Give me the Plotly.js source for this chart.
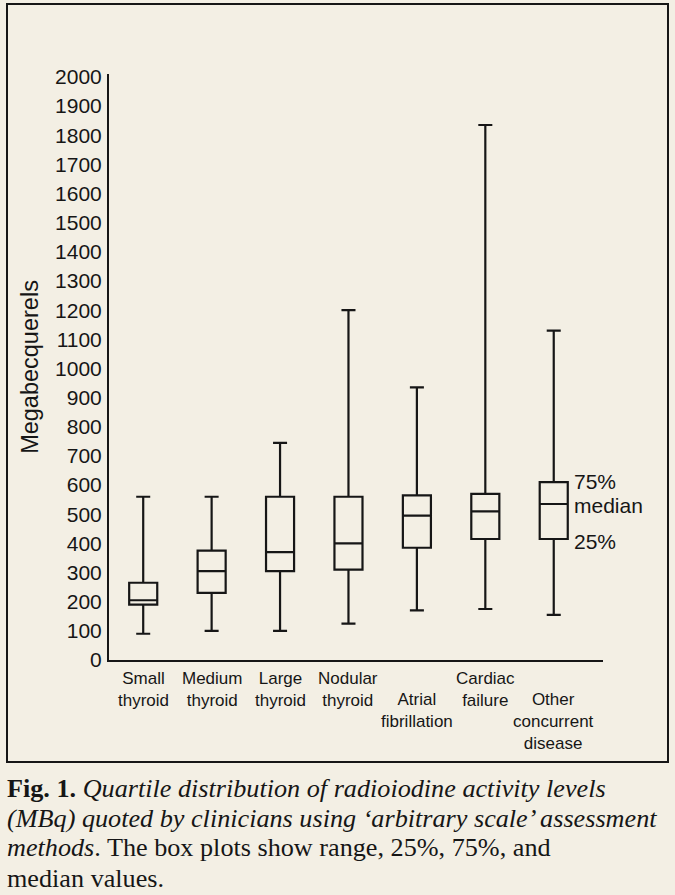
<!DOCTYPE html>
<html>
<head>
<meta charset="utf-8">
<script src="https://cdn.plot.ly/plotly-3.0.1.min.js"></script>
<style>
  body { margin: 0; background: #f3efe4; }
  #chart { width: 675px; height: 895px; }
</style>
</head>
<body>
<div id="chart"></div>
<script>
// Box plot values (MBq)
const categories = ['Small<br>thyroid', 'Medium<br>thyroid', 'Large<br>thyroid', 'Nodular<br>thyroid',
                    'Atrial<br>fibrillation', 'Cardiac<br>failure', 'Other<br>concurrent<br>disease'];
const xPos = [0, 1, 2, 3, 4, 5, 6];
const lowerFence = [90, 100, 100, 125, 170, 175, 155];
const q1 = [190, 230, 305, 310, 385, 415, 415];
const median = [205, 305, 370, 400, 495, 510, 535];
const q3 = [265, 375, 560, 560, 565, 570, 610];
const upperFence = [560, 560, 745, 1200, 935, 1835, 1130];

const keyLabels = ['75%', 'median', '25%'];
const captionLines = [
    '<b>Fig. 1.</b> <i>Quartile distribution of radioiodine activity levels</i>',
    '<i>(MBq) quoted by clinicians using ‘arbitrary scale’ assessment</i>',
    '<i>methods</i>. The box plots show range, 25%, 75%, and',
    'median values.'
];

const INK = '#161616';
const PAPER = '#f3efe4';
const M = { l: 109, r: 72, t: 74, b: 235 };
const W = 675, H = 895;
const plotW = W - M.l - M.r;
const plotH = H - M.t - M.b;
const zeroY = H - M.b;

// pixel -> paper helpers for the decoration (frame, labels, caption)
const px2x = px => (px - M.l) / plotW;
const px2y = py => (zeroY - py) / plotH;

const trace = {
    type: 'box',
    x: xPos,
    q1: q1,
    median: median,
    q3: q3,
    lowerfence: lowerFence,
    upperfence: upperFence,
    width: 0.41,
    whiskerwidth: 0.5,
    boxpoints: false,
    fillcolor: 'rgba(0,0,0,0)',
    line: { color: INK, width: 2.2 },
    hoverinfo: 'skip',
    showlegend: false
};

const annotations = [];

// category labels, every other one dropped a line lower like the original
const labelTop = [667, 667, 667, 667, 688, 667, 688];
categories.forEach((txt, i) => {
    annotations.push({
        x: xPos[i], xref: 'x', xanchor: 'center',
        y: px2y(labelTop[i]), yref: 'paper', yanchor: 'top',
        text: txt, showarrow: false, align: 'center',
        font: { size: 17, color: INK }
    });
});

// key next to the last box
const last = xPos.length - 1;
const keyShift = [1, -1, -2];
[q3[last], median[last], q1[last]].forEach((v, k) => {
    annotations.push({
        x: xPos[last] + 0.205, xref: 'x', xanchor: 'left', xshift: 4,
        y: v, yref: 'y', yanchor: 'middle', yshift: keyShift[k],
        text: keyLabels[k], showarrow: false,
        font: { size: 21, color: INK }
    });
});

// caption
const capBaselines = [797, 827, 857, 887];
captionLines.forEach((txt, i) => {
    annotations.push({
        x: px2x(5), xref: 'paper', xanchor: 'left',
        y: px2y(capBaselines[i] - 9), yref: 'paper', yanchor: 'middle',
        text: txt, showarrow: false, align: 'left',
        font: { family: '"Liberation Serif", "Times New Roman", serif', size: 26.2, color: INK }
    });
});

const layout = {
    width: W, height: H,
    margin: M,
    paper_bgcolor: PAPER,
    plot_bgcolor: PAPER,
    font: { family: '"Liberation Sans", Arial, sans-serif', color: INK },
    showlegend: false,
    xaxis: {
        range: [-0.5, 6.72],
        showticklabels: false,
        ticks: '',
        showgrid: false,
        zeroline: false,
        showline: true,
        linecolor: INK,
        linewidth: 2,
        fixedrange: true
    },
    yaxis: {
        range: [0, 2010],
        tick0: 0,
        dtick: 100,
        ticks: '',
        ticklabelstandoff: 1,
        tickfont: { size: 21, color: INK },
        showgrid: false,
        zeroline: false,
        showline: true,
        linecolor: INK,
        linewidth: 2,
        fixedrange: true,
        title: { text: 'Megabecquerels', font: { size: 23.5, color: INK }, standoff: 10 }
    },
    shapes: [{
        type: 'rect', xref: 'paper', yref: 'paper',
        x0: px2x(7), x1: px2x(668), y0: px2y(762), y1: px2y(4),
        line: { color: INK, width: 2 }, fillcolor: 'rgba(0,0,0,0)', layer: 'below'
    }],
    annotations: annotations
};

Plotly.newPlot('chart', [trace], layout, { displayModeBar: false, staticPlot: true });
</script>
</body>
</html>
